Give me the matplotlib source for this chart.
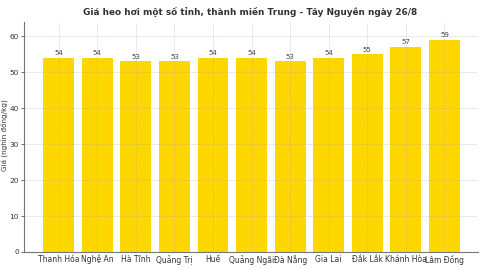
import matplotlib
matplotlib.use("Agg")
import matplotlib.pyplot as plt

provinces = ["Thanh Hóa", "Nghệ An", "Hà Tĩnh", "Quảng Trị", "Huế", "Quảng Ngãi",
             "Đà Nẵng", "Gia Lai", "Đắk Lắk", "Khánh Hòa", "Lâm Đồng"]
prices = [54, 54, 53, 53, 54, 54, 53, 54, 55, 57, 59]

fig = plt.figure(figsize=(4.8, 2.7), dpi=100)
ax = fig.add_axes([24 / 480, 18 / 270, 454 / 480, 230 / 270])

x = list(range(len(provinces)))
ax.bar(x, prices, width=0.8, color="#FFD700", zorder=2)
for xi, v in zip(x, prices):
    ax.text(xi, v + 0.4, str(v), ha="center", va="bottom", fontsize=5, color="#444444", zorder=4)

# light grid drawn over the bars
ax.grid(True, linestyle="--", linewidth=0.4, color="#aaaaaa", alpha=0.6, zorder=3)
ax.set_axisbelow(False)
ax.set_xlim(-0.9, 10.87)
ax.set_ylim(0, 63.9)
ax.set_xticks(x)
ax.set_xticklabels(provinces, fontsize=5.5, color="#333333")
ax.set_yticks(range(0, 61, 10))
ax.tick_params(axis="y", labelsize=5.3, colors="#333333", length=2, width=0.5, pad=1.5)
ax.tick_params(axis="x", length=0, pad=2)
for s in ["top", "right"]:
    ax.spines[s].set_visible(False)
for s in ["left", "bottom"]:
    ax.spines[s].set_color("#777777")
    ax.spines[s].set_linewidth(0.8)

fig.text(4 / 480, 0.5, "Giá (nghìn đồng/kg)", rotation=90, ha="center", va="center",
         fontsize=5.2, color="#333333")
fig.text(0.52, 0.955, "Giá heo hơi một số tỉnh, thành miền Trung - Tây Nguyên ngày 26/8",
         ha="center", va="center", fontsize=6.4, fontweight="bold", color="#333333")

fig.savefig("out.png", dpi=100)
